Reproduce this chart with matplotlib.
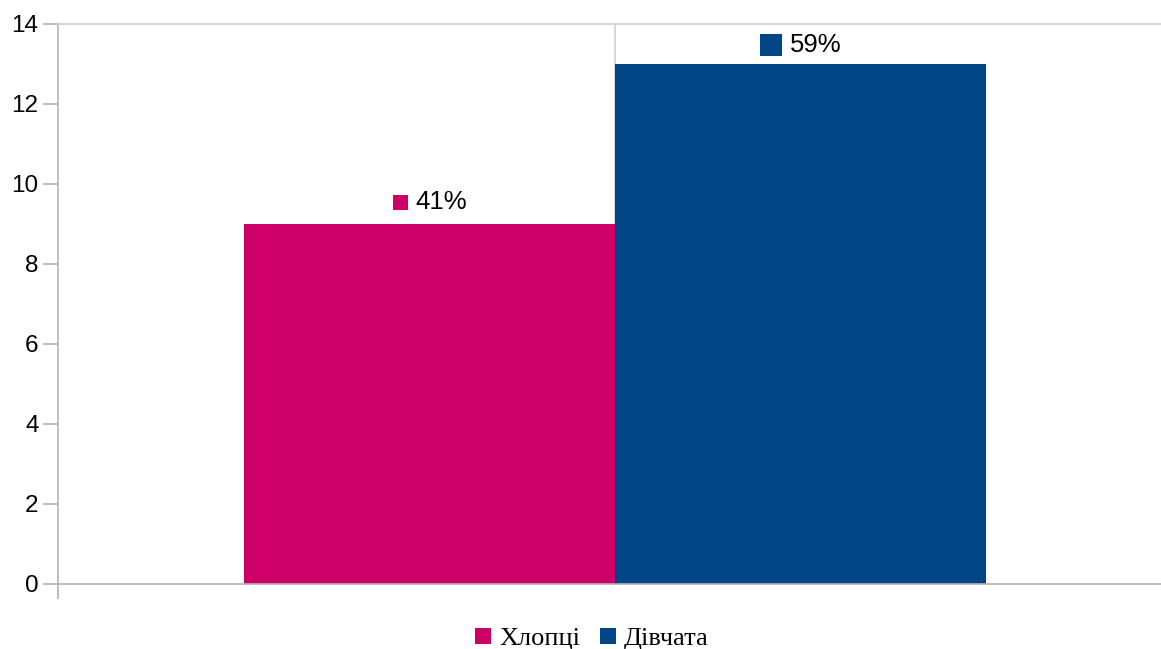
import matplotlib
matplotlib.use("Agg")
import matplotlib.pyplot as plt
from matplotlib.patches import Patch
from matplotlib.transforms import offset_copy

series = ["Хлопці", "Дівчата"]
values = [9, 13]
labels = ["41%", "59%"]
colors = ["#cc0066", "#004586"]
yticks = [0, 2, 4, 6, 8, 10, 12, 14]

W, H = 1161, 649
fig = plt.figure(figsize=(W / 100, H / 100), dpi=100)
ax = fig.add_axes([58 / W, 65 / H, (1172 - 58) / W, 560 / H])

grey = "#b3b3b3"
xpos = [-0.5, 0.5]
ax.bar(xpos, values, width=1.0, color=colors, zorder=2)
ax.axvline(0, color="#d0d0d0", lw=1.2, zorder=1)

ax.set_xlim(-1.5, 1.5)
ax.set_ylim(0, 14)
ax.set_yticks(yticks)
ax.set_yticklabels([str(t) for t in yticks], fontsize=17.5, family="Liberation Sans")
ax.set_xticks([-1.5, 1.5])
ax.set_xticklabels(["", ""])
ax.tick_params(axis="both", length=11, color=grey, width=1.2, direction="out", pad=3)
for s in ["left", "bottom", "top"]:
    ax.spines[s].set_color(grey)
    ax.spines[s].set_linewidth(1.2)
ax.spines["top"].set_color("#d0d0d0")
ax.spines["right"].set_visible(False)

sq_sizes = [15, 22]
sq_dx = [-29, -29.5]
txt_dx = [-13.5, -10.5]
dy = [22, 19]
for x, v, lab, c, ss, sdx, tdx, d in zip(xpos, values, labels, colors, sq_sizes, sq_dx, txt_dx, dy):
    tr = offset_copy(ax.transData, fig, x=sdx, y=d, units="dots")
    ax.plot([x], [v], marker="s", markersize=ss * 0.72, color=c, transform=tr,
            clip_on=False, linestyle="none", markeredgewidth=0)
    ax.annotate(lab, xy=(x, v), xytext=(tdx, d), textcoords="offset pixels",
                ha="left", va="center", fontsize=18.5, family="Liberation Sans")

handles = [Patch(facecolor=c, edgecolor="none") for c in colors]
fig.legend(handles, series, loc="center", bbox_to_anchor=(592 / W, 1 - 639 / H),
           ncol=2, frameon=False, prop={"family": "Liberation Serif", "size": 19},
           handlelength=0.6, handleheight=0.6, handletextpad=0.3,
           columnspacing=0.75, borderpad=0)

fig.savefig("out.png", dpi=100)
